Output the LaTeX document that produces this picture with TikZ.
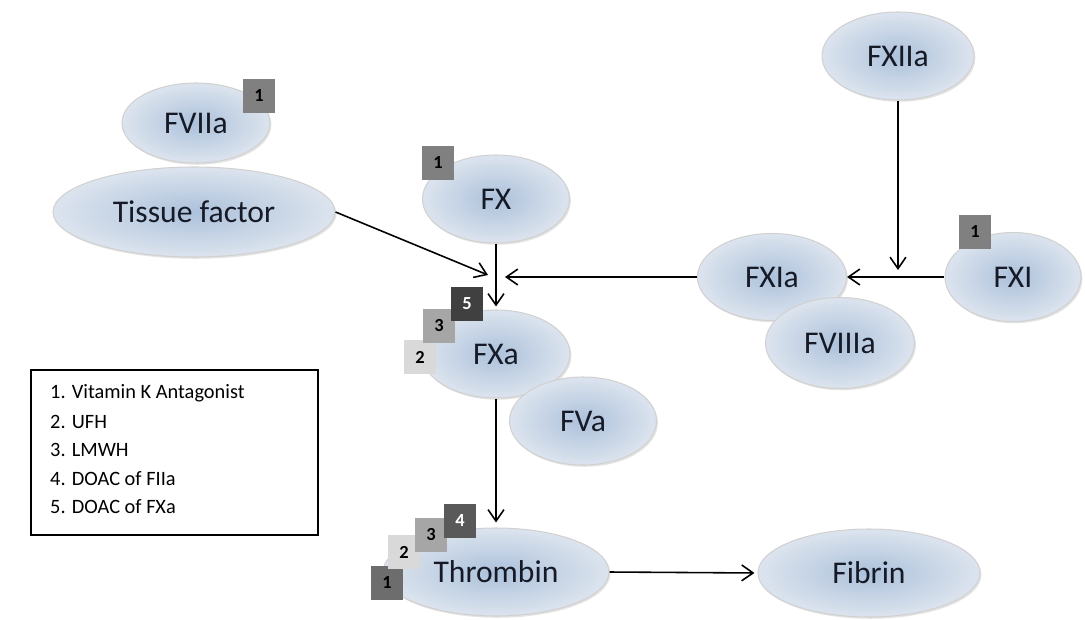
\documentclass[tikz,border=0pt]{standalone}
\usepackage{fontspec}
\setmainfont{Carlito}
\usepackage{tikz}
\usetikzlibrary{shapes.geometric, arrows.meta, positioning, shadows}
\definecolor{factorinner}{RGB}{172, 193, 219}
\definecolor{factorouter}{RGB}{220, 228, 238}
\definecolor{labeltext}{RGB}{22, 26, 38}
\definecolor{vkacolor}{RGB}{128, 128, 128}
\definecolor{ufhcolor}{RGB}{217, 217, 217}
\definecolor{lmwhcolor}{RGB}{166, 166, 166}
\definecolor{fiiacolor}{RGB}{89, 89, 89}
\definecolor{fxacolor}{RGB}{64, 64, 64}

\begin{document}
\begin{tikzpicture}[
    x=0.02cm, y=-0.02cm,
    factor/.style 2 args={ellipse, inner sep=0pt, minimum width=#1*0.02cm, minimum height=#2*0.02cm,
        shading=radial, inner color=factorinner, outer color=factorouter, draw=black!18, line width=0.6pt,
        drop shadow={shadow xshift=0.8pt, shadow yshift=-1pt, opacity=0.22},
        text=labeltext, font=\fontsize{18}{21}\selectfont},
    badge/.style={fill=#1, inner sep=0pt, minimum width=32*0.02cm, minimum height=34*0.02cm,
        font=\bfseries\fontsize{10.5}{11}\selectfont},
    flow/.style={-{Straight Barb[length=6.5pt, width=9pt]}, line width=0.9pt},
    item/.style={anchor=west, font=\fontsize{11.6}{14}\selectfont}
]
    \useasboundingbox (0,0) rectangle (1085,619);

    % Factors
    \node[factor={148}{80}] (fviia) at (196,123) {FVIIa};
    \node[factor={282}{90}] (tissue) at (194,212) {Tissue factor};
    \node[factor={147}{88}] (fx) at (496,199) {FX};
    \node[factor={152}{88}] (fxiia) at (898,56) {FXIIa};
    \node[factor={149}{87}] (fxia) at (772,277) {FXIa};
    \node[factor={149}{91}] (fviiia) at (840,343) {FVIIIa};
    \node[factor={136}{89}] (fxi) at (1013,277) {FXI};
    \node[factor={148}{88}] (fxa) at (496,354) {FXa};
    \node[factor={147}{88}] (fva) at (583,421) {FVa};
    \node[factor={226}{88}] (thrombin) at (496,572) {Thrombin};
    \node[factor={222}{88}] (fibrin) at (869,573) {Fibrin};

    % Drug targets
    \node[badge=vkacolor] (vkaviia) at (259,96) {1};
    \node[badge=vkacolor] (vkax) at (438,163) {1};
    \node[badge=vkacolor] (vkaxi) at (975,232) {1};

    \node[badge=ufhcolor] (ufhxa) at (420,357) {2};
    \node[badge=lmwhcolor] (lmwhxa) at (439,326) {3};
    \node[badge=fxacolor, text=white] (doacxa) at (467,304) {5};

    \node[badge=vkacolor!85!black] (vkathr) at (387,583) {1};
    \node[badge=ufhcolor] (ufhthr) at (404,552) {2};
    \node[badge=lmwhcolor] (lmwhthr) at (431,535) {3};
    \node[badge=fiiacolor, text=white] (doacthr) at (460,521) {4};

    % Cascade
    \coordinate (tfend) at (488,275);
    \coordinate (xiaend) at (505,277);
    \coordinate (xiiaend) at (898,270);

    \draw[flow] (tissue.east) -- (tfend);
    \draw[flow, shorten >=3*0.02cm] (fx.south) -- (fxa.north);
    \draw[flow] (fxia.west) -- (xiaend);
    \draw[flow] (fxiia.south) -- (xiiaend);
    \draw[flow] (fxi.west) -- (fxia.east);
    \draw[flow, shorten >=5*0.02cm] (fxa.south) -- (thrombin.north);
    \draw[flow, shorten >=3*0.02cm] (thrombin.east) -- (fibrin.west);

    % Legend
    \node[draw, line width=1.2pt, minimum width=287*0.02cm, minimum height=165*0.02cm] (legend) at (174.5,452.5) {};
    \node[item] (itemone) at (44,393) {1. Vitamin K Antagonist};
    \node[item] (itemtwo) at (44,422) {2. UFH};
    \node[item] (itemthree) at (44,450) {3. LMWH};
    \node[item] (itemfour) at (44,479) {4. DOAC of FIIa};
    \node[item] (itemfive) at (44,507) {5. DOAC of FXa};

\end{tikzpicture}
\end{document}
